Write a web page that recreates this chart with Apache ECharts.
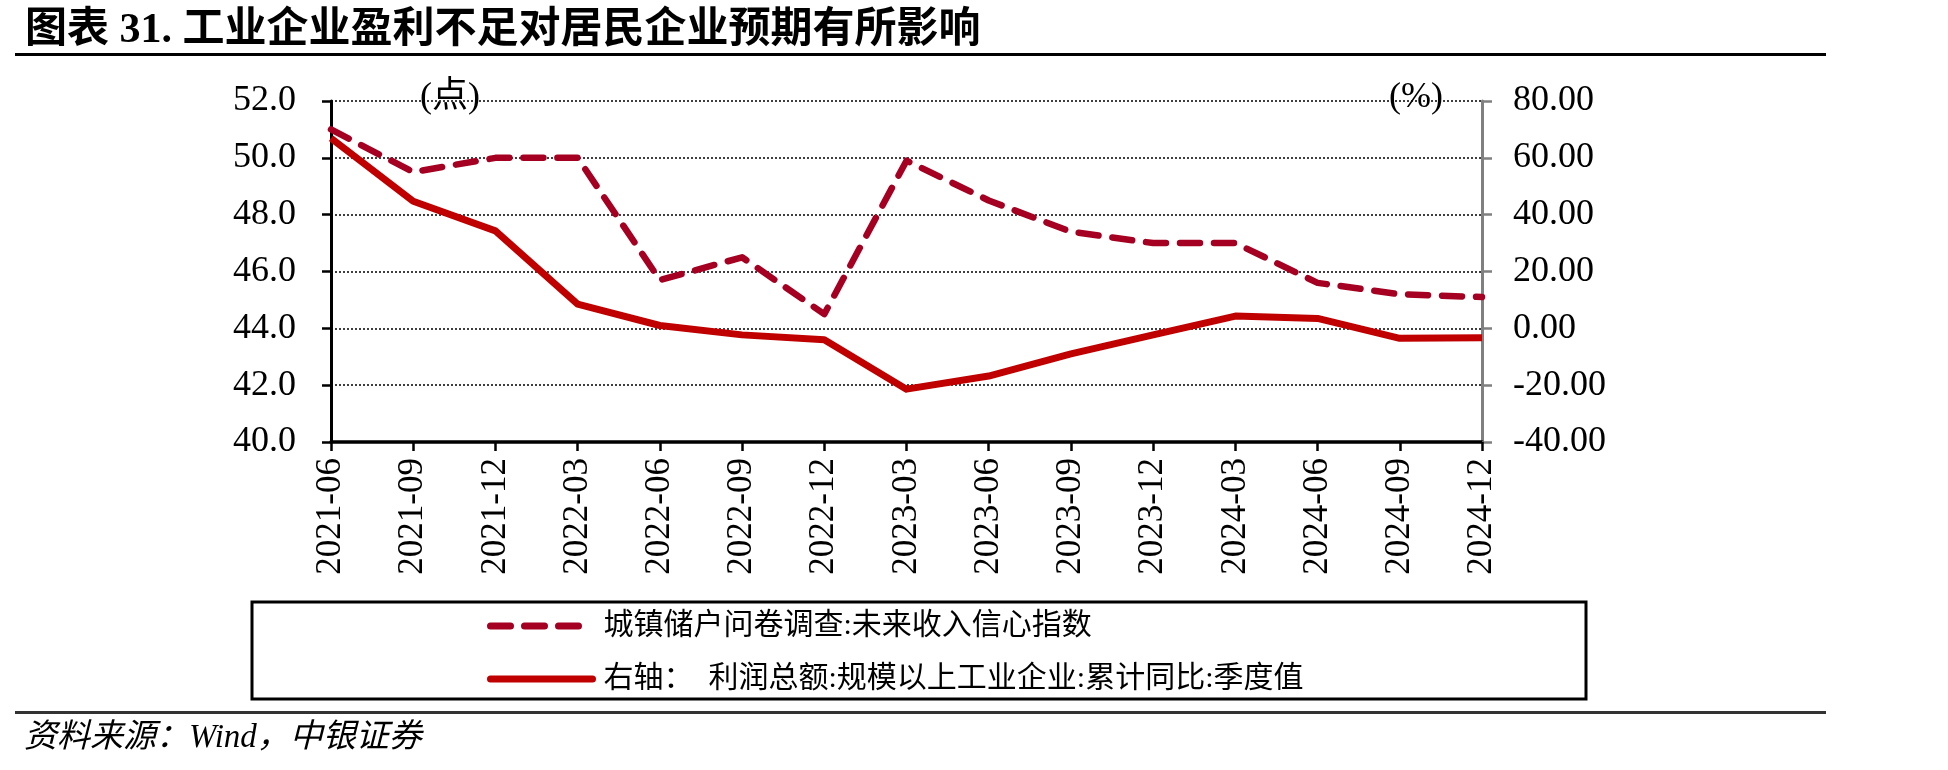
<!DOCTYPE html>
<html>
<head>
<meta charset="utf-8">
<script src="https://cdn.jsdelivr.net/npm/echarts@6/dist/echarts.min.js"></script>
<style>
  html, body { margin: 0; padding: 0; background: #fff; }
  #main { width: 1948px; height: 770px; }
</style>
</head>
<body>
<div id="main"></div>
<script>
// 横轴：季度
var categories = ['2021-06', '2021-09', '2021-12', '2022-03', '2022-06', '2022-09', '2022-12',
  '2023-03', '2023-06', '2023-09', '2023-12', '2024-03', '2024-06', '2024-09', '2024-12'];
// 左轴：城镇储户问卷调查:未来收入信心指数（点）
var incomeConfidence = [51.0, 49.5, 50.0, 50.0, 45.7, 46.5, 44.5, 49.9, 48.5, 47.4, 47.0, 47.0, 45.6, 45.2, 45.1];
// 右轴：利润总额累计同比（%）
var profitYoy = [66.9, 44.7, 34.3, 8.5, 1.0, -2.3, -4.0, -21.4, -16.8, -9.0, -2.3, 4.3, 3.5, -3.5, -3.3];

var seriesNames = ['城镇储户问卷调查:未来收入信心指数', '右轴：  利润总额:规模以上工业企业:累计同比:季度值'];

var serif = 'Liberation Serif, Noto Sans CJK SC';

var myChart = echarts.init(document.getElementById('main'));
myChart.setOption({
  backgroundColor: '#fff',
  animation: false,
  title: {
    text: '图表 31. 工业企业盈利不足对居民企业预期有所影响',
    left: 20,
    top: 5,
    textStyle: { fontFamily: serif, fontSize: 42, fontWeight: 'bold', color: '#000' }
  },
  grid: { left: 331, right: 466, top: 101, bottom: 328 },
  legend: {
    orient: 'vertical',
    left: 482,
    top: 606,
    itemWidth: 102,
    itemHeight: 10,
    itemGap: 23,
    itemStyle: { opacity: 0 },
    lineStyle: { width: 7, cap: 'round' },
    textStyle: { fontFamily: serif, fontSize: 30, color: '#000', padding: [0, 0, 0, 6] },
    data: seriesNames
  },
  xAxis: {
    type: 'category',
    data: categories,
    boundaryGap: false,
    axisLine: { onZero: false, lineStyle: { color: '#000', width: 3.5 } },
    axisTick: { show: true, length: 9, lineStyle: { color: '#000', width: 2.5 } },
    axisLabel: { rotate: 90, margin: 16, fontFamily: serif, fontSize: 35, color: '#000' }
  },
  yAxis: [
    {
      type: 'value',
      min: 40, max: 52, interval: 2,
      axisLine: { show: true, lineStyle: { color: '#000', width: 3 } },
      axisTick: { show: true, length: 9, lineStyle: { color: '#000', width: 2.5 } },
      axisLabel: { margin: 35, fontFamily: serif, fontSize: 36, color: '#000',
        formatter: function (v) { return v.toFixed(1); } },
      splitLine: { show: true, lineStyle: { color: '#000', width: 1.5, type: [2, 2] } }
    },
    {
      type: 'value',
      min: -40, max: 80, interval: 20,
      axisLine: { show: true, lineStyle: { color: '#808080', width: 3 } },
      axisTick: { show: true, length: 10, lineStyle: { color: '#808080', width: 2.5 } },
      axisLabel: { margin: 31, fontFamily: serif, fontSize: 36, color: '#000',
        formatter: function (v) { return v.toFixed(2); } },
      splitLine: { show: false }
    }
  ],
  series: [
    {
      name: seriesNames[0],
      type: 'line',
      yAxisIndex: 0,
      data: incomeConfidence,
      symbol: 'none',
      color: '#A50021',
      lineStyle: { color: '#A50021', width: 6.5, type: [20, 14], cap: 'round', join: 'round' },
      z: 3
    },
    {
      name: seriesNames[1],
      type: 'line',
      yAxisIndex: 1,
      data: profitYoy,
      symbol: 'none',
      color: '#C00000',
      lineStyle: { color: '#C00000', width: 7, join: 'round' },
      z: 2
    }
  ],
  graphic: [
    // 标题下横线
    { type: 'rect', shape: { x: 15, y: 53, width: 1811, height: 3 }, style: { fill: '#000' } },
    // 单位
    { type: 'text', left: 420, top: 80, style: { text: '(点)', font: '36px ' + serif, fill: '#000' } },
    { type: 'text', left: 1389, top: 80, style: { text: '(%)', font: '36px ' + serif, fill: '#000' } },
    // 图例外框
    { type: 'rect', shape: { x: 252, y: 602, width: 1334, height: 97 },
      style: { fill: 'none', stroke: '#000', lineWidth: 3 } },
    // 底部横线
    { type: 'rect', shape: { x: 15, y: 711, width: 1811, height: 3 }, style: { fill: '#333' } },
    // 资料来源
    { type: 'text', left: 24, top: 722, style: { text: '资料来源：Wind，中银证券',
      font: 'italic 33px ' + serif, fill: '#000' } }
  ]
});
</script>
</body>
</html>
